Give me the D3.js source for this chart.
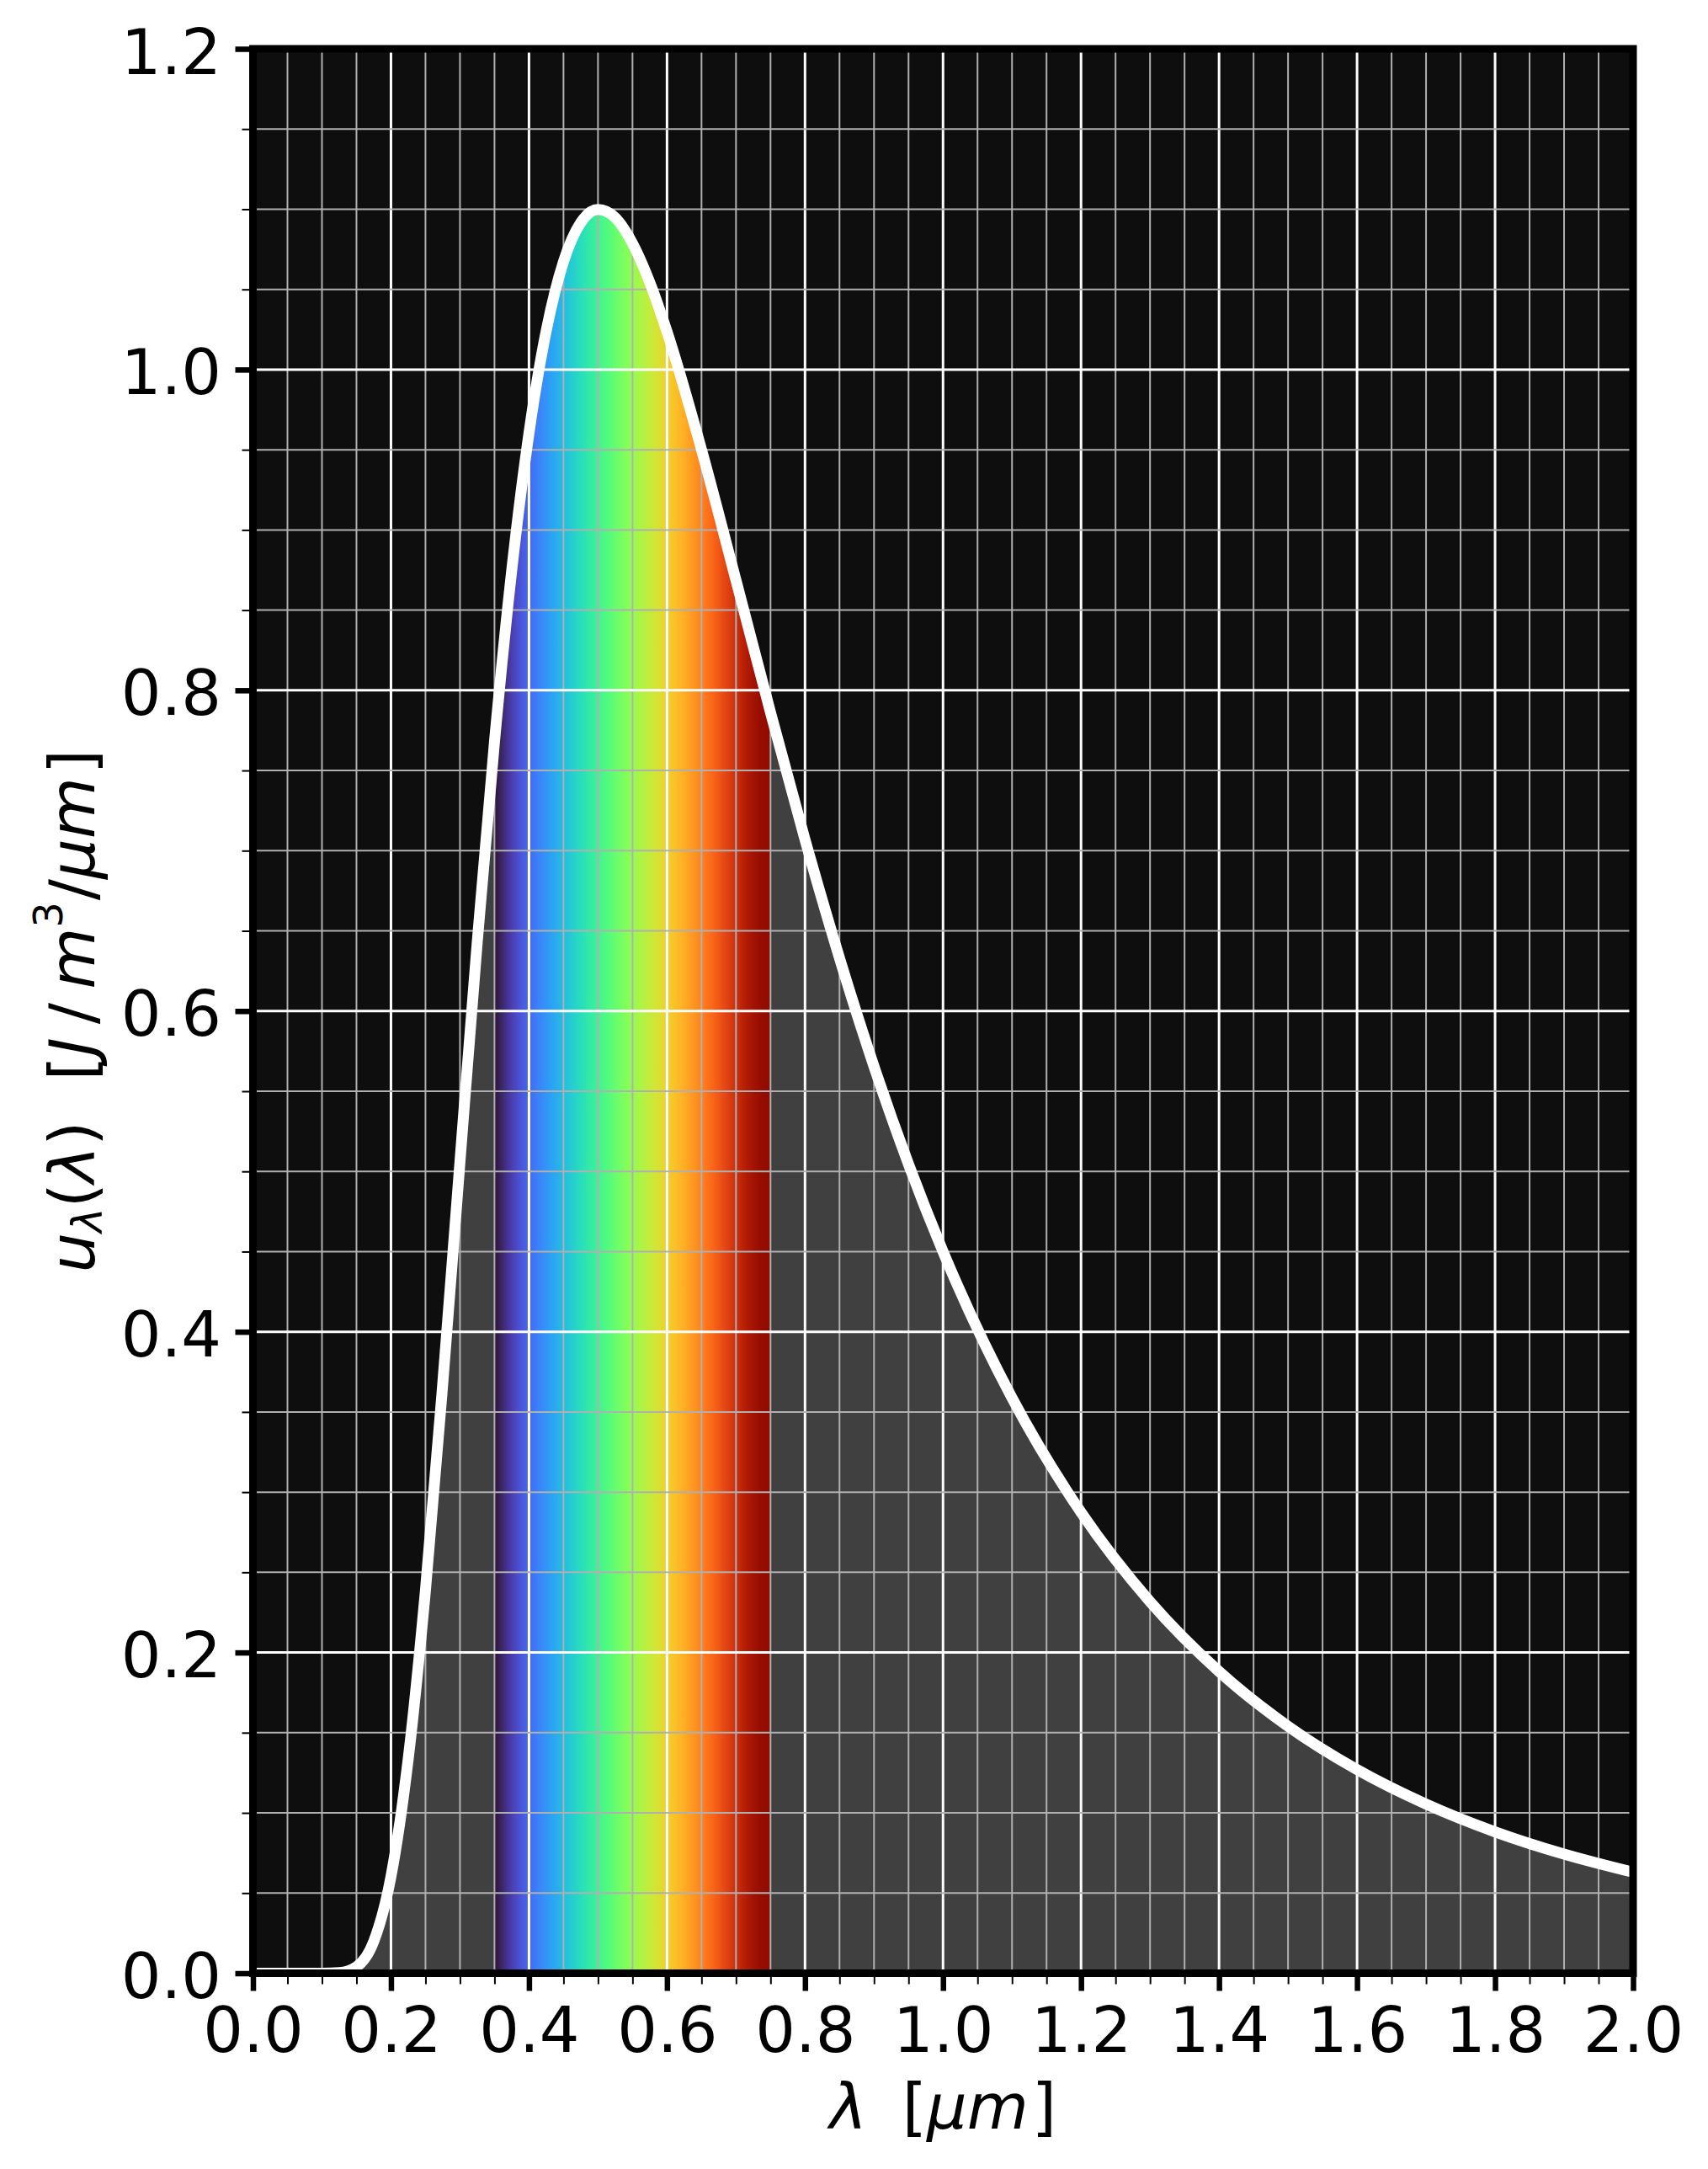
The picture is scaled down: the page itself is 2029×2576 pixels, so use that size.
<!DOCTYPE html>
<html>
<head>
<meta charset="utf-8">
<script src="https://cdn.jsdelivr.net/npm/d3@7"></script>
<style>
  html, body { margin: 0; padding: 0; background: #ffffff; }
  svg { display: block; }
</style>
</head>
<body>
<svg id="chart" width="2029" height="2576"></svg>
<script>
// ---- data ----
const wavelengths = [0, 0.05, 0.1, 0.125, 0.15, 0.175, 0.2, 0.225, 0.25, 0.275, 0.3, 0.325, 0.35, 0.375, 0.4, 0.425, 0.45, 0.475, 0.5, 0.525, 0.55, 0.575, 0.6, 0.65, 0.7, 0.75, 0.8, 0.85, 0.9, 0.95, 1.0, 1.1, 1.2, 1.3, 1.4, 1.5, 1.6, 1.7, 1.8, 1.9, 2.0];
const energyDensity = [0, 0, 0.00001, 0.0004, 0.004, 0.0198, 0.0603, 0.1337, 0.2390, 0.3674, 0.5062, 0.6429, 0.7679, 0.8748, 0.9604, 1.0242, 1.0673, 1.0916, 1.0998, 1.0947, 1.0787, 1.0544, 1.0237, 0.9501, 0.8686, 0.7862, 0.7069, 0.6330, 0.5654, 0.5045, 0.4500, 0.3587, 0.2874, 0.2317, 0.1882, 0.1540, 0.1270, 0.1055, 0.0882, 0.0743, 0.0630];
const visibleBand = [0.35, 0.75];
const xTickLabels = ["0.0", "0.2", "0.4", "0.6", "0.8", "1.0", "1.2", "1.4", "1.6", "1.8", "2.0"];
const yTickLabels = ["0.0", "0.2", "0.4", "0.6", "0.8", "1.0", "1.2"];
const xDomain = [0, 2.0];
const yDomain = [0, 1.2];
const minorStep = 0.05;

// ---- layout ----
const L = 300.5, R = 1940, T = 58, B = 2343.5;
const svg = d3.select("#chart");
const x = d3.scaleLinear().domain(xDomain).range([L, R]);
const y = d3.scaleLinear().domain(yDomain).range([B, T]);

const points = wavelengths.map((w, i) => ({ w, u: energyDensity[i] }));

const defs = svg.append("defs");
defs.append("clipPath").attr("id", "plotClip")
  .append("rect").attr("x", L).attr("y", T).attr("width", R - L).attr("height", B - T);
defs.append("clipPath").attr("id", "bandClip")
  .append("rect").attr("x", x(visibleBand[0])).attr("y", T)
  .attr("width", x(visibleBand[1]) - x(visibleBand[0])).attr("height", B - T);

const grad = defs.append("linearGradient").attr("id", "spectrum")
  .attr("gradientUnits", "userSpaceOnUse")
  .attr("x1", x(visibleBand[0])).attr("x2", x(visibleBand[1]))
  .attr("y1", 0).attr("y2", 0);
d3.range(0, 1.0001, 0.02).forEach(t => {
  grad.append("stop").attr("offset", t)
    .attr("stop-color", t === 0 ? "#30123b" : d3.interpolateTurbo(t));
});

// background
svg.append("rect").attr("x", L).attr("y", T).attr("width", R - L).attr("height", B - T)
  .attr("fill", "#0e0e0e");

const area = d3.area().x(d => x(d.w)).y0(y(0)).y1(d => y(d.u)).curve(d3.curveMonotoneX);
const line = d3.line().x(d => x(d.w)).y(d => y(d.u)).curve(d3.curveMonotoneX);

const plot = svg.append("g").attr("clip-path", "url(#plotClip)");
plot.append("path").datum(points).attr("d", area).attr("fill", "#404040");
plot.append("g").attr("clip-path", "url(#bandClip)")
  .append("path").datum(points).attr("d", area).attr("fill", "url(#spectrum)");

// grid
const isMajor = v => Math.abs(v / 0.2 - Math.round(v / 0.2)) < 1e-6;
const xGrid = d3.range(0, 2.0001, minorStep).map(v => +v.toFixed(4));
const yGrid = d3.range(0, 1.2001, minorStep).map(v => +v.toFixed(4));
const grid = plot.append("g");
grid.selectAll("line.xg").data(xGrid).join("line")
  .attr("x1", d => x(d)).attr("x2", d => x(d)).attr("y1", T).attr("y2", B)
  .attr("stroke", d => isMajor(d) ? "#ffffff" : "#b0b0b0")
  .attr("stroke-width", d => isMajor(d) ? 3 : 2);
grid.selectAll("line.yg").data(yGrid).join("line")
  .attr("y1", d => y(d)).attr("y2", d => y(d)).attr("x1", L).attr("x2", R)
  .attr("stroke", d => isMajor(d) ? "#ffffff" : "#b0b0b0")
  .attr("stroke-width", d => isMajor(d) ? 3 : 2);

// curve
plot.append("path").datum(points).attr("d", line)
  .attr("fill", "none").attr("stroke", "#ffffff").attr("stroke-width", 13)
  .attr("stroke-linejoin", "round");

// axes via d3 axis generators
const font = "'DejaVu Sans', sans-serif";
const xMajor = xTickLabels.map(Number);
const yMajor = yTickLabels.map(Number);

const xAxis = svg.append("g").attr("transform", `translate(0,${B})`)
  .call(d3.axisBottom(x).tickValues(xMajor).tickFormat((d, i) => xTickLabels[i]).tickSize(21).tickPadding(0));
const xAxisMinor = svg.append("g").attr("transform", `translate(0,${B})`)
  .call(d3.axisBottom(x).tickValues(xGrid.filter(v => !isMajor(v))).tickFormat("").tickSize(13));
const yAxis = svg.append("g").attr("transform", `translate(${L},0)`)
  .call(d3.axisLeft(y).tickValues(yMajor).tickFormat((d, i) => yTickLabels[i]).tickSize(21).tickPadding(0));
const yAxisMinor = svg.append("g").attr("transform", `translate(${L},0)`)
  .call(d3.axisLeft(y).tickValues(yGrid.filter(v => !isMajor(v))).tickFormat("").tickSize(13));

[xAxis, xAxisMinor, yAxis, yAxisMinor].forEach(g => g.select(".domain").remove());
[xAxis, yAxis].forEach(g => g.selectAll(".tick line").attr("stroke", "#000").attr("stroke-width", 6.5));
[xAxisMinor, yAxisMinor].forEach(g => g.selectAll(".tick line").attr("stroke", "#000").attr("stroke-width", 2));

xAxis.selectAll(".tick text")
  .attr("y", 93).attr("dy", null)
  .attr("font-family", font).attr("font-size", 75).attr("fill", "#000");
yAxis.selectAll(".tick text")
  .attr("x", -37.5).attr("dy", null).attr("y", 29)
  .attr("font-family", font).attr("font-size", 75).attr("fill", "#000")
  .attr("text-anchor", "end");

// spines
svg.append("rect").attr("x", L).attr("y", T).attr("width", R - L).attr("height", B - T)
  .attr("fill", "none").attr("stroke", "#000").attr("stroke-width", 9);

// x label
const xl = svg.append("text").attr("x", (L + R) / 2).attr("y", 2528)
  .attr("text-anchor", "middle").attr("font-family", font).attr("font-size", 75).attr("fill", "#000");
xl.append("tspan").attr("font-style", "italic").text("λ");
xl.append("tspan").attr("dx", 42).text("[");
xl.append("tspan").attr("font-style", "italic").text("μm");
xl.append("tspan").attr("dx", 4).text("]");

// y label
const yl = svg.append("text").attr("transform", `translate(112,${(T + B) / 2}) rotate(-90)`)
  .attr("text-anchor", "middle").attr("font-family", font).attr("font-size", 75).attr("fill", "#000");
yl.append("tspan").attr("font-style", "italic").text("u");
yl.append("tspan").attr("font-style", "italic").attr("font-size", 50).attr("dy", 9).text("λ");
yl.append("tspan").attr("dy", -9).text("(");
yl.append("tspan").attr("font-style", "italic").text("λ");
yl.append("tspan").text(")");
yl.append("tspan").attr("dx", 48).text("[");
yl.append("tspan").attr("font-style", "italic").text("J");
yl.append("tspan").attr("dx", 16).text("/");
yl.append("tspan").attr("dx", 16).attr("font-style", "italic").text("m");
yl.append("tspan").attr("font-size", 48).attr("dy", -38).text("3");
yl.append("tspan").attr("dy", 38).attr("dx", 2).text("/");
yl.append("tspan").attr("font-style", "italic").text("μm");
yl.append("tspan").attr("dx", 4).text("]");
</script>
</body>
</html>
